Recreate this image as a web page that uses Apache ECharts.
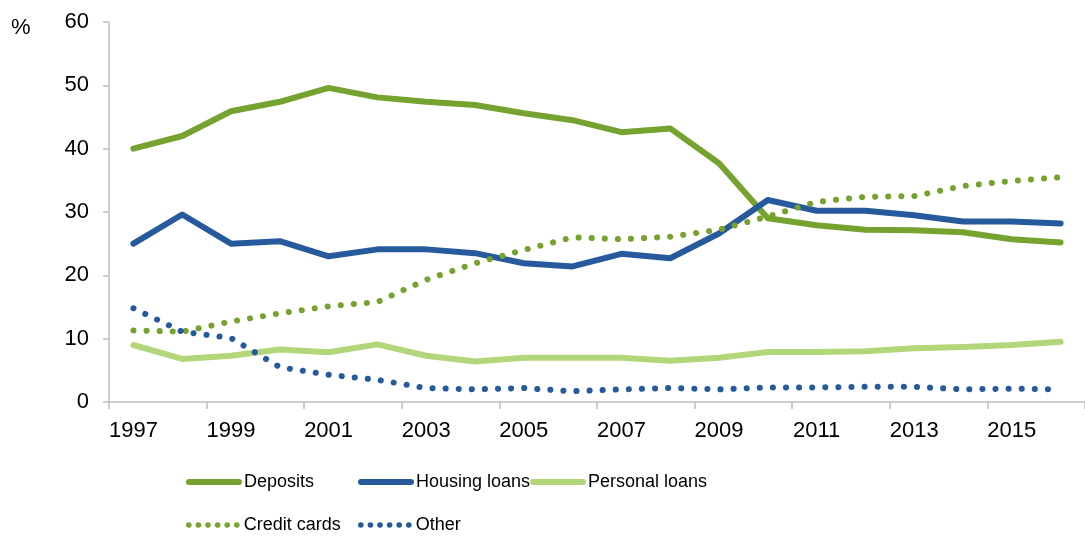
<!DOCTYPE html>
<html>
<head>
<meta charset="utf-8">
<script src="https://cdn.jsdelivr.net/npm/echarts@6/dist/echarts.min.js"></script>
<style>
html,body{margin:0;padding:0;background:#fff;}
#chart{width:1085px;height:536px;}
</style>
</head>
<body>
<div id="chart"></div>
<script>
const years = ['1997','1998','1999','2000','2001','2002','2003','2004','2005','2006','2007','2008','2009','2010','2011','2012','2013','2014','2015','2016'];
const deposits = [40.0,42.0,45.9,47.4,49.6,48.1,47.4,46.9,45.6,44.5,42.6,43.2,37.7,29.0,27.9,27.2,27.1,26.8,25.7,25.2];
const housingLoans = [25.0,29.6,25.0,25.4,23.0,24.1,24.1,23.5,21.9,21.4,23.4,22.7,26.6,31.9,30.2,30.2,29.5,28.5,28.5,28.2];
const personalLoans = [9.0,6.8,7.3,8.3,7.85,9.1,7.3,6.4,7.0,7.0,7.0,6.5,7.0,7.9,7.9,8.0,8.5,8.7,9.0,9.5];
const creditCards = [11.3,11.1,12.7,14.0,15.1,15.8,19.3,21.9,24.0,26.0,25.7,26.1,27.2,29.3,31.6,32.4,32.5,34.1,34.9,35.5];
const other = [14.8,11.1,10.1,5.5,4.3,3.5,2.2,2.0,2.2,1.7,2.0,2.2,2.0,2.3,2.3,2.4,2.4,2.0,2.1,2.0];
const yTicks = [0,10,20,30,40,50,60];

const GREEN = '#76A22F';
const BLUE = '#275A9C';
const LIGHT = '#B3D67A';
const FONT = '"Liberation Sans", Arial, sans-serif';

function solid(name, data, color) {
  return {
    name, type: 'line', data, symbol: 'none', smooth: false,
    lineStyle: { color, width: 6, cap: 'round', join: 'round' },
    itemStyle: { color },
    emphasis: { disabled: true }
  };
}
function dotted(name, data, color) {
  return {
    name, type: 'line', data, symbol: 'none', smooth: false,
    lineStyle: { color, width: 6, type: [0.1, 13], cap: 'round', join: 'round' },
    itemStyle: { color },
    emphasis: { disabled: true }
  };
}
function legendAt(name, left, top, dots) {
  const item = { name };
  if (dots) item.lineStyle = { type: [0.1, 9.5], width: 5.5, cap: 'round' };
  return {
    data: [item], left, top, itemWidth: 50, itemHeight: 14, itemGap: 0,
    padding: 0, selectedMode: false,
    lineStyle: { width: 6 },
    itemStyle: { color: 'rgba(0,0,0,0)', borderWidth: 0, opacity: 0 },
    textStyle: { fontFamily: FONT, fontSize: 18, color: '#000', lineHeight: 20, padding: [0,0,0,0] }
  };
}

const chart = echarts.init(document.getElementById('chart'), null, { renderer: 'canvas' });
chart.setOption({
  animation: false,
  backgroundColor: '#fff',
  title: { text: '%', left: 11, top: 17, padding: 0,
    textStyle: { fontFamily: FONT, fontSize: 22, fontWeight: 'normal', color: '#000' } },
  grid: { left: 109, top: 22, bottom: 134, right: -8, containLabel: false },
  xAxis: {
    type: 'category', data: years, boundaryGap: true,
    axisLine: { lineStyle: { color: '#BFBFBF', width: 1.5 } },
    axisTick: { show: true, interval: 1, alignWithLabel: false, length: 7, lineStyle: { color: '#BFBFBF', width: 1.5 } },
    axisLabel: { interval: 1, margin: 18, fontFamily: FONT, fontSize: 22, color: '#000' },
    splitLine: { show: false }
  },
  yAxis: {
    type: 'value', min: yTicks[0], max: yTicks[yTicks.length-1], interval: 10,
    axisLine: { show: true, lineStyle: { color: '#BFBFBF', width: 1.5 } },
    axisTick: { show: true, length: 6, lineStyle: { color: '#BFBFBF', width: 1.5 } },
    axisLabel: { margin: 20, fontFamily: FONT, fontSize: 22, color: '#000' },
    splitLine: { show: false }
  },
  legend: [
    legendAt('Deposits', 186, 472, false),
    legendAt('Housing loans', 358, 472, false),
    legendAt('Personal loans', 530, 472, false),
    legendAt('Credit cards', 186, 515, true),
    legendAt('Other', 358, 515, true)
  ],
  series: [
    solid('Deposits', deposits, GREEN),
    solid('Housing loans', housingLoans, BLUE),
    solid('Personal loans', personalLoans, LIGHT),
    dotted('Credit cards', creditCards, GREEN),
    dotted('Other', other, BLUE)
  ]
});
</script>
</body>
</html>
